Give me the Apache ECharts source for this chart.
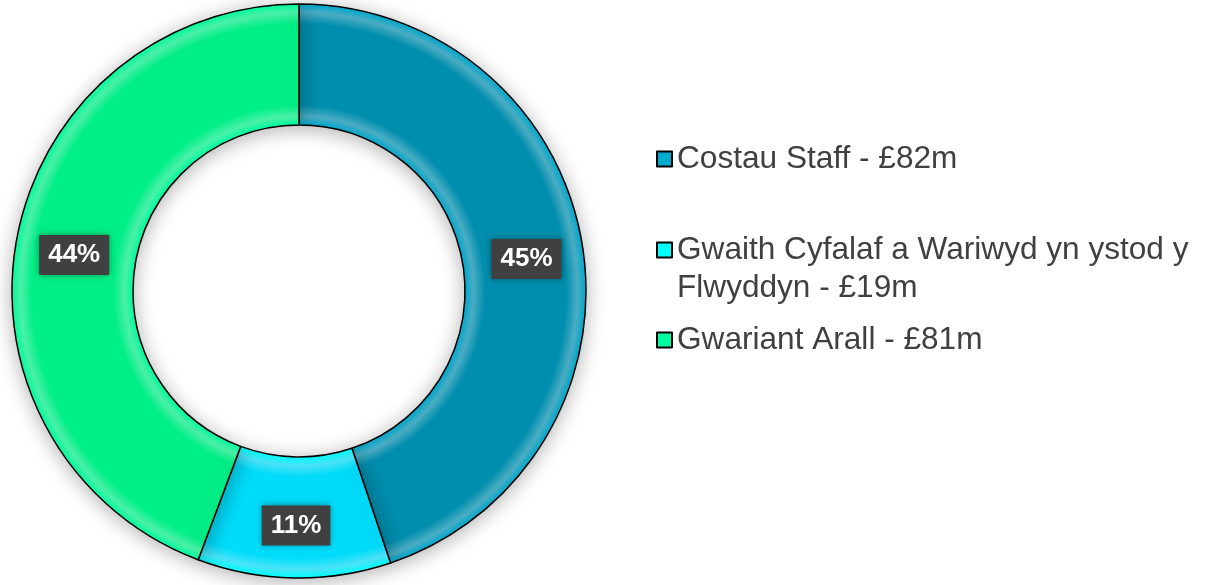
<!DOCTYPE html>
<html>
<head>
<meta charset="utf-8">
<script src="https://cdn.jsdelivr.net/npm/echarts@6/dist/echarts.min.js"></script>
<style>
  html, body { margin: 0; padding: 0; background: #fff; }
  #main { width: 1207px; height: 585px; }
</style>
</head>
<body>
<div id="main"></div>
<script>
// values in £m (legend shows rounded amounts)
var categories = ["Costau Staff", "Gwaith Cyfalaf a Wariwyd yn ystod y Flwyddyn", "Gwariant Arall"];
var values = [81.6, 19.8, 80.6];
var legendLabels = ["Costau Staff - £82m", "\u00a0\nGwaith Cyfalaf a Wariwyd yn ystod y\nFlwyddyn - £19m", "Gwariant Arall - £81m"];
var colors = ["#008EAE", "#00DCFA", "#00EF86"];

var cx = 299, cy = 291, rIn = 166, rOut = 287;

// fake bevel: lighter bands near inner and outer edge
function bevel(c) {
  var light = echarts.color.lift(c, 0.3);
  var dark = echarts.color.lift(c, -0.2);
  return new echarts.graphic.RadialGradient(cx, cy, rOut, [
    { offset: 0, color: light },
    { offset: rIn / rOut, color: dark },
    { offset: rIn / rOut + 0.03, color: light },
    { offset: rIn / rOut + 0.07, color: c },
    { offset: 0.93, color: c },
    { offset: 0.97, color: light },
    { offset: 1, color: dark }
  ], true);
}

var chartDom = document.getElementById("main");
var myChart = echarts.init(chartDom);

// top of each legend block (the second one carries a blank first line)
var legendTops = [135, 188, 316];
var legends = categories.map(function (name, i) {
  return {
    data: [name],
    left: 651,
    top: legendTops[i],
    orient: "vertical",
    icon: "rect",
    itemWidth: 15,
    itemHeight: 15,
    itemGap: 0,
    selectedMode: false,
    itemStyle: { borderColor: "#000", borderWidth: 2 },
    formatter: function () { return legendLabels[i]; },
    textStyle: {
      fontFamily: "Liberation Sans, Arial, sans-serif",
      fontSize: 31.6,
      color: "#404040",
      lineHeight: 38
    }
  };
});

var option = {
  animation: false,
  color: colors,
  legend: legends,
  series: [
    {
      type: "pie",
      center: [cx, cy],
      radius: [rIn, rOut],
      startAngle: 90,
      clockwise: true,
      avoidLabelOverlap: false,
      data: categories.map(function (name, i) {
        return {
          name: name,
          value: values[i],
          itemStyle: { color: bevel(colors[i]) }
        };
      }),
      itemStyle: {
        borderColor: "#000",
        borderWidth: 1.5,
        shadowBlur: 20,
        shadowOffsetY: 3,
        shadowColor: "rgba(0,0,0,0.3)"
      },
      label: {
        show: true,
        position: "inside",
        offset: [1, 5],
        formatter: function (p) { return Math.round(p.percent) + "%"; },
        fontFamily: "Liberation Sans, Arial, sans-serif",
        fontSize: 26,
        fontWeight: "bold",
        color: "#fff",
        backgroundColor: "#404040",
        padding: [8, 9, 6, 9],
        shadowBlur: 6,
        shadowColor: "rgba(0,0,0,0.4)"
      },
      labelLine: { show: false },
      emphasis: { disabled: true }
    }
  ]
};

option && myChart.setOption(option);
</script>
</body>
</html>
